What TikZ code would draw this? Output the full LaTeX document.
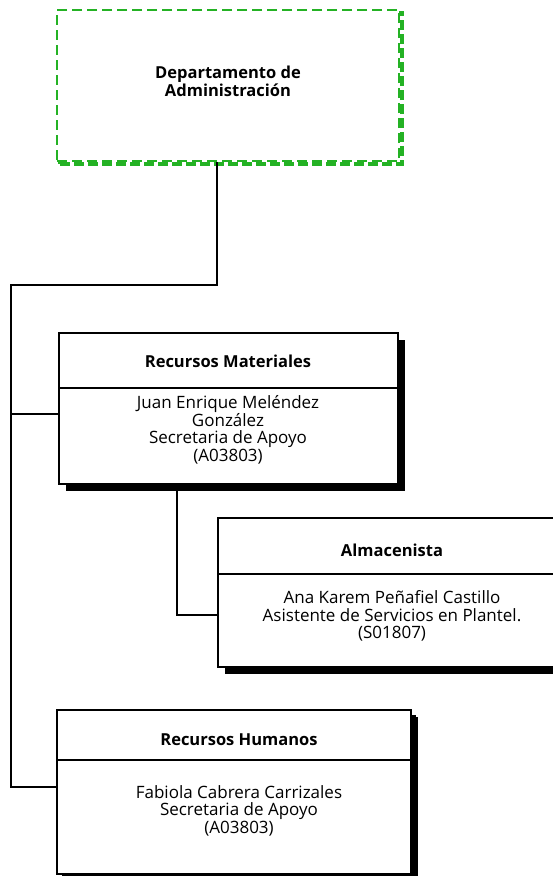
\documentclass[tikz,border=0pt]{standalone}
\usepackage{fontspec}
\setmainfont{Open Sans}
\usetikzlibrary{shadows}
\definecolor{deptgreen}{RGB}{36,178,36}
\begin{document}
\begin{tikzpicture}[x=1pt,y=-1pt,
  wire/.style={line width=2.2pt, line join=miter},
  rule/.style={line width=2.2pt},
  card/.style={draw, line width=2.2pt, fill=white, rectangle, inner sep=0pt,
    anchor=north west,
    drop shadow={shadow xshift=7pt, shadow yshift=-7pt, fill=black, opacity=1}},
  deptcard/.style={draw=deptgreen, line width=2.2pt, fill=white, rectangle,
    inner sep=0pt, anchor=north west, dash pattern=on 10pt off 5pt,
    general shadow={draw=deptgreen, fill=none, line width=3.5pt,
      dash pattern=on 10pt off 4pt, shadow xshift=3pt, shadow yshift=-3pt}},
  head/.style={font=\bfseries\fontsize{16.5}{18}\selectfont, align=center, inner sep=0pt},
  body/.style={font=\fontsize{17}{17.8}\selectfont, align=center, inner sep=0pt, anchor=north}
]
\useasboundingbox (0,0) rectangle (553,876);

% department box
\node[deptcard, minimum width=342pt, minimum height=151pt] (dept) at (56,9) {};
\node[head] (deptt) at (228,81) {Departamento de\\Administración};

% Recursos Materiales
\node[card, minimum width=339pt, minimum height=151pt] (rm) at (58,332) {};
\draw[rule] ([yshift=-56pt]rm.north west) -- ([yshift=-56pt]rm.north east);
\node[head] (rmh) at (228,361) {Recursos Materiales};
\node[body] (rmb) at (228,395) {Juan Enrique Meléndez\\González\\Secretaria de Apoyo\\(A03803)};

% Almacenista
\node[card, minimum width=350pt, minimum height=149pt] (alm) at (217,517) {};
\draw[rule] ([yshift=-57pt]alm.north west) -- ([yshift=-57pt]alm.north east);
\node[head] (almh) at (392,550) {Almacenista};
\node[body] (almb) at (392,590) {Ana Karem Peñafiel Castillo\\Asistente de Servicios en Plantel.\\(S01807)};

% Recursos Humanos
\node[card, minimum width=354pt, minimum height=164pt,
  drop shadow={shadow xshift=5pt, shadow yshift=-5pt, fill=black, opacity=1}] (rh) at (56,709) {};
\draw[rule] ([yshift=-51pt]rh.north west) -- ([yshift=-51pt]rh.north east);
\node[head] (rhh) at (239,740) {Recursos Humanos};
\node[body] (rhb) at (239,785) {Fabiola Cabrera Carrizales\\Secretaria de Apoyo\\(A03803)};

% connectors
\coordinate (bus) at (11,285);
\draw[wire] ([xshift=161pt]dept.south west) |- (bus) |- ([yshift=-78pt]rh.north west);
\draw[wire] (bus |- rm.north west) ++(0,82) coordinate (rmtap) -- ([yshift=-82pt]rm.north west);
\draw[wire] ([xshift=119pt]rm.south west) |- ([yshift=-98pt]alm.north west);
\end{tikzpicture}
\end{document}
